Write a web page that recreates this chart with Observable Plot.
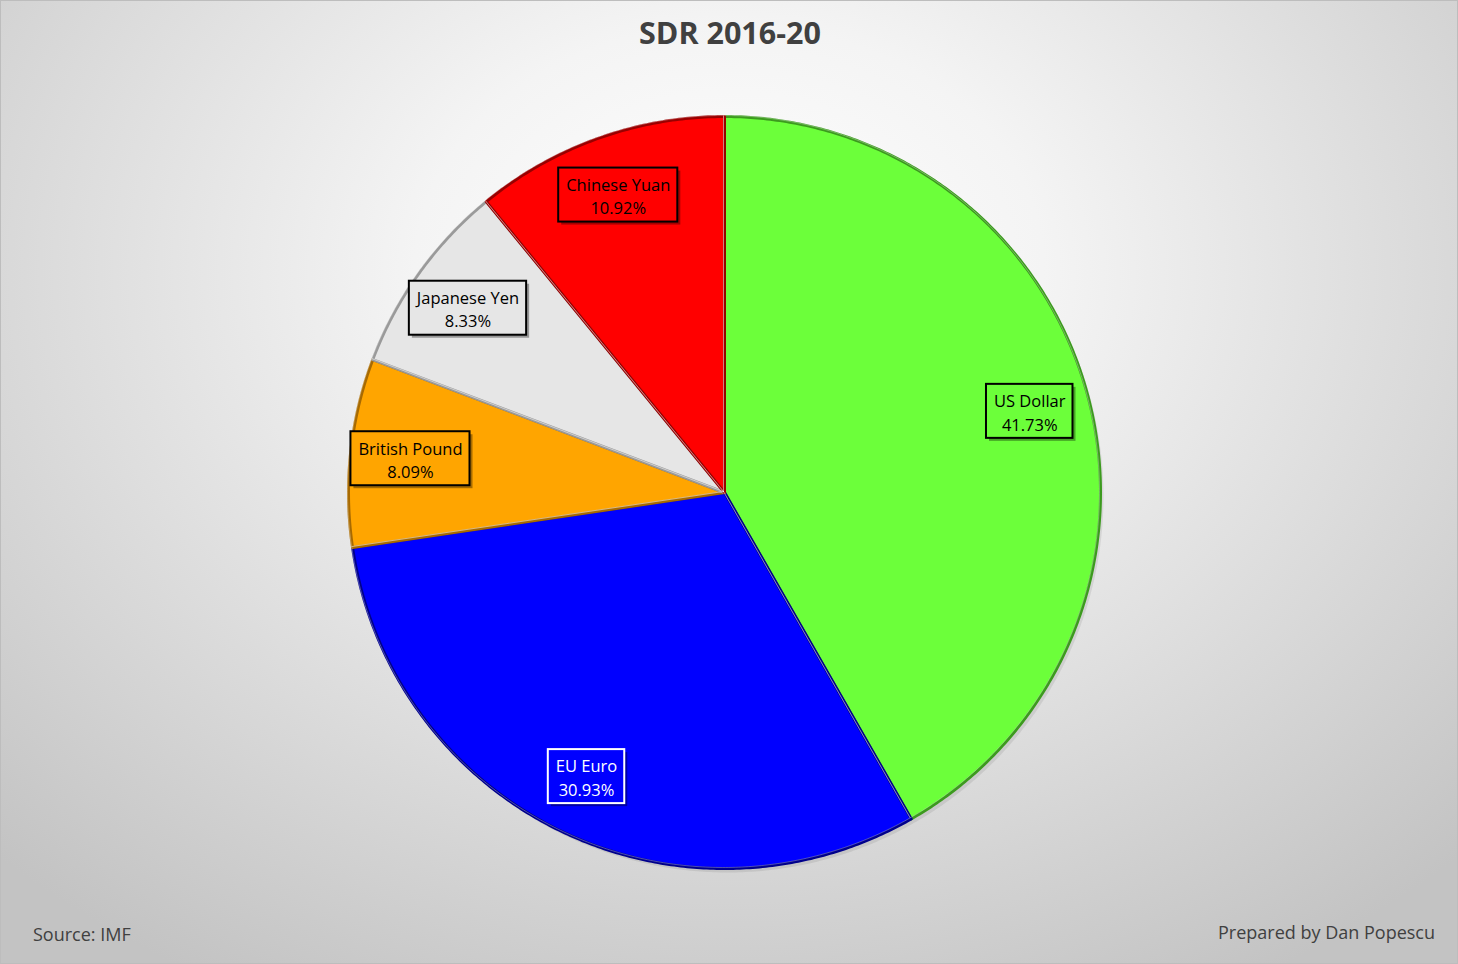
<!DOCTYPE html>
<html><head><meta charset="utf-8">
<script src="https://cdn.jsdelivr.net/npm/d3@7"></script>
<script src="https://cdn.jsdelivr.net/npm/@observablehq/plot@0.6"></script>
<style>
html,body{margin:0;padding:0;background:#fff;}
#wrap{position:relative;width:1458px;height:964px;box-sizing:border-box;border:1px solid #bdbdbd;
 background:radial-gradient(ellipse 72% 85% at 50% 28%, #ffffff 0%, #f4f4f4 30%, #c3c3c3 100%);overflow:hidden;font-family:"Open Sans",sans-serif;}
#title{position:absolute;top:10px;left:0;width:1458px;text-align:center;font-weight:bold;font-size:30.5px;color:#404040;}
#src{position:absolute;left:32px;top:921px;font-size:18px;color:#404040;}
#prep{position:absolute;right:22px;top:919px;font-size:18px;color:#404040;}
#chart{position:absolute;left:0;top:0;}
</style></head>
<body>
<div id="wrap">
  <div id="chart"></div>
  <div id="title">SDR 2016-20</div>
  <div id="src">Source: IMF</div>
  <div id="prep">Prepared by Dan Popescu</div>
</div>
<script>
const currencies = ["US Dollar", "EU Euro", "British Pound", "Japanese Yen", "Chinese Yuan"];
const shares = [41.73, 30.93, 8.09, 8.33, 10.92];

// palette
const sliceFill = ["#6cff3a", "#0000ff", "#ffa500", "#e6e6e6", "#ff0000"];
const sliceEdge = ["#3c9a1e", "#00008c", "#a86a00", "#9a9a9a", "#990000"];
const labelInk = ["#000000", "#ffffff", "#000000", "#000000", "#000000"];

const W = 1456, H = 962, cx = 723, cy = 491, R = 376;
const labelFrac = 0.84;
const fontSize = 16.5;

const data = currencies.map((name, i) => ({name, share: shares[i], fill: sliceFill[i], edge: sliceEdge[i], ink: labelInk[i]}));
const arcs = d3.pie().sort(null).value(d => d.share)(data);

// slice outlines (center -> arc -> center)
const pts = [];
arcs.forEach(a => {
  const d = a.data;
  pts.push({name: d.name, fill: d.fill, edge: d.edge, x: 0, y: 0});
  const n = Math.max(2, Math.ceil((a.endAngle - a.startAngle) / (Math.PI / 360)));
  for (let k = 0; k <= n; k++) {
    const t = a.startAngle + (a.endAngle - a.startAngle) * k / n;
    pts.push({name: d.name, fill: d.fill, edge: d.edge, x: R * Math.sin(t), y: -R * Math.cos(t)});
  }
  pts.push({name: d.name, fill: d.fill, edge: d.edge, x: 0, y: 0});
});

const ctx = document.createElement("canvas").getContext("2d");
ctx.font = `${fontSize}px "Open Sans"`;
const labels = arcs.map(a => {
  const d = a.data;
  const m = (a.startAngle + a.endAngle) / 2;
  const l2 = d.share.toFixed(2) + "%";
  const w = Math.max(ctx.measureText(d.name).width, ctx.measureText(l2).width) + 15;
  return {name: d.name, share: d.share, fill: d.fill, ink: d.ink,
    lx: R * labelFrac * Math.sin(m), ly: -R * labelFrac * Math.cos(m), w, h: 54,
    text: d.name + "\n" + l2};
});

const plot = Plot.plot({
  width: W, height: H,
  margin: 0,
  x: {type: "linear", domain: [-cx, W - cx], range: [0, W], axis: null},
  y: {type: "linear", domain: [-cy, H - cy], range: [0, H], axis: null},
  color: {type: "identity"},
  style: {background: "transparent", fontFamily: "Open Sans"},
  marks: [
    // soft shadow under the pie
    Plot.line(pts, {x: "x", y: "y", z: "name", fill: "#000", fillOpacity: 0.08, dx: 3, dy: 4, stroke: "none"}),
    Plot.line(pts, {x: "x", y: "y", z: "name", fill: "fill", stroke: "edge", strokeWidth: 3, strokeLinejoin: "round", curve: "linear"}),
    Plot.line(pts, {x: "x", y: "y", z: "name", fill: "none", stroke: "#ffffff", strokeOpacity: 0.3, strokeWidth: 1, dx: -1, dy: -1}),
    // label boxes
    Plot.rect(labels, {x1: d => d.lx - d.w / 2, x2: d => d.lx + d.w / 2, y1: d => d.ly - d.h / 2, y2: d => d.ly + d.h / 2,
      fill: "#000", fillOpacity: 0.35, dx: 3, dy: 3}),
    Plot.rect(labels, {x1: d => d.lx - d.w / 2, x2: d => d.lx + d.w / 2, y1: d => d.ly - d.h / 2, y2: d => d.ly + d.h / 2,
      fill: "fill", stroke: "ink", strokeWidth: 2}),
    Plot.text(labels, {x: "lx", y: "ly", text: "text", fill: "ink", fontSize: fontSize, lineHeight: 1.42, textAnchor: "middle"})
  ]
});
document.getElementById("chart").appendChild(plot);
</script>
</body></html>
